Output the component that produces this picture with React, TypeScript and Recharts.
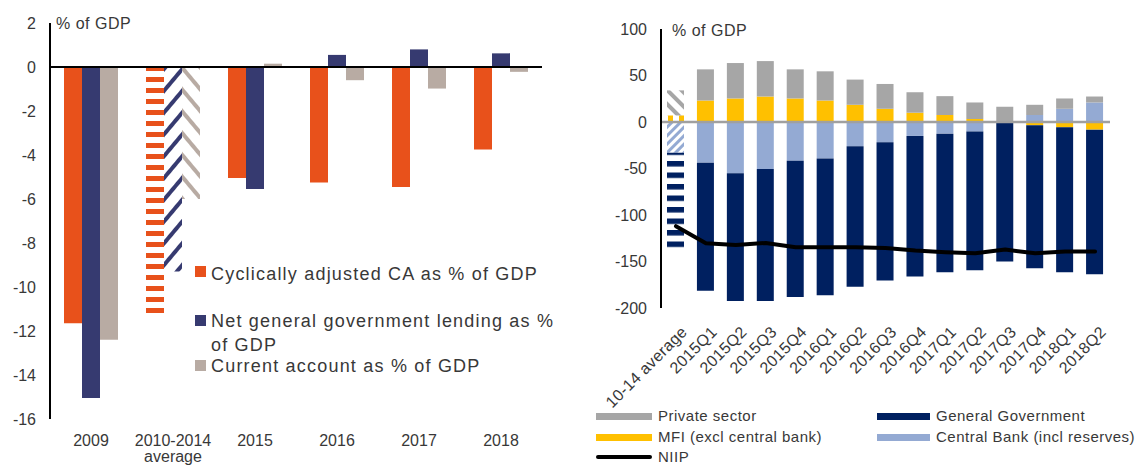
import React from 'react'
import {
  BarChart,
  ComposedChart,
  Bar,
  Line,
  XAxis,
  YAxis,
  ReferenceLine,
  Cell,
  Legend,
} from 'recharts'

// ---- left chart data (% of GDP) ----
const leftCategories = ['2009', '2010-2014 average', '2015', '2016', '2017', '2018']
const cyclicallyAdjustedCA = [-11.65, -11.35, -5.05, -5.25, -5.45, -3.75]
const netGovLending = [-15.05, -9.3, -5.55, 0.55, 0.8, 0.62]
const currentAccount = [-12.4, -6.0, 0.15, -0.6, -0.98, -0.22]
const leftTicks = [-16, -14, -12, -10, -8, -6, -4, -2, 0, 2]

// ---- right chart data (% of GDP) ----
const rightCategories = [
  '10-14 average', '2015Q1', '2015Q2', '2015Q3', '2015Q4', '2016Q1', '2016Q2', '2016Q3',
  '2016Q4', '2017Q1', '2017Q2', '2017Q3', '2017Q4', '2018Q1', '2018Q2',
]
const privateSector = [27, 33.5, 38.1, 38.1, 31.3, 31.4, 27.1, 26.7, 22, 20.3, 17.8, 16.4, 11, 11.1, 6.4]
const mfi = [7, 23.1, 25.3, 27.4, 25.3, 23.1, 18.5, 14.2, 10, 7.5, 3.2, 0, -3.5, -5.7, -8.2]
const centralBank = [-33, -43.8, -55.2, -50.6, -41.7, -39.2, -26, -21.7, -15, -12.5, -10.3, -1, 7.5, 14.2, 21]
const generalGov = [-105, -137.7, -137.4, -142, -146.6, -147, -151.2, -148.7, -151.1, -149, -149.1, -149, -153.7, -155.8, -155.5]
const niip = [-112, -130.4, -132.2, -130, -134.7, -134.7, -134.7, -135.4, -138.2, -140, -141.1, -137.2, -141.1, -139.3, -139.3]
const rightTicks = [-200, -150, -100, -50, 0, 50, 100]

const FONT = "'Liberation Sans', Arial, sans-serif"
const TXT = '#383838'

const ORANGE = '#e8511b'
const NAVY = '#363a70'
const TAUPE = '#b8aba3'

const GREY = '#a6a6a6'
const YELLOW = '#ffc000'
const DARKBLUE = '#002060'
const LIGHTBLUE = '#94aad3'

const leftData = leftCategories.map((c, i) => ({
  name: c,
  ca: cyclicallyAdjustedCA[i],
  gov: netGovLending[i],
  cur: currentAccount[i],
}))

const rightData = rightCategories.map((c, i) => ({
  name: c,
  mfi: mfi[i],
  cb: centralBank[i],
  priv: privateSector[i],
  gg: generalGov[i],
  niip: niip[i],
}))

function LeftTick({ x, y, payload }: any) {
  const lines = payload.value === '2010-2014 average' ? ['2010-2014', 'average'] : [payload.value]
  return (
    <text x={x} y={y} textAnchor="middle" fontSize={16} fill={TXT} fontFamily={FONT}>
      {lines.map((l: string, i: number) => (
        <tspan key={i} x={x} dy={i === 0 ? 27 : 16}>{l}</tspan>
      ))}
    </text>
  )
}

function RightTick({ x, y, payload }: any) {
  const tx = x + 12
  const ty = y + 25
  return (
    <text
      x={tx}
      y={ty}
      textAnchor="end"
      transform={`rotate(-45, ${tx}, ${ty})`}
      fontSize={16}
      letterSpacing={0.3}
      fill={TXT}
      fontFamily={FONT}
    >
      {payload.value}
    </text>
  )
}

function LeftLegend() {
  const sq = (top: number, color: string) => (
    <div style={{ position: 'absolute', left: 195, top, width: 11, height: 11, background: color }} />
  )
  const txt = (top: number, s: string) => (
    <div style={{ position: 'absolute', left: 211, top, whiteSpace: 'nowrap', fontSize: 18, lineHeight: '22px', letterSpacing: 1.2 }}>
      {s}
    </div>
  )
  return (
    <div style={{ position: 'relative', width: 560, height: 466, fontFamily: FONT, color: TXT, overflow: 'hidden' }}>
      {sq(266, ORANGE)}
      {txt(263, 'Cyclically adjusted CA as % of GDP')}
      {sq(315, NAVY)}
      <div style={{ position: 'absolute', left: 211, top: 309, whiteSpace: 'nowrap', fontSize: 18, lineHeight: '24px', letterSpacing: 1.2 }}>
        Net general government lending as %<br />of GDP
      </div>
      {sq(360, TAUPE)}
      {txt(355, 'Current account as % of GDP')}
    </div>
  )
}

function RightLegend() {
  const items = [
    { label: 'Private sector', color: GREY, left: 16, top: 416, w: 56, h: 7 },
    { label: 'General Government', color: DARKBLUE, left: 297, top: 416, w: 53, h: 7 },
    { label: 'MFI (excl central bank)', color: YELLOW, left: 16, top: 437, w: 56, h: 7 },
    { label: 'Central Bank (incl reserves)', color: LIGHTBLUE, left: 297, top: 437, w: 53, h: 7 },
    { label: 'NIIP', color: '#000', left: 16, top: 457, w: 56, h: 4 },
  ]
  return (
    <div style={{ position: 'relative', width: 562, height: 466, fontFamily: FONT, color: TXT }}>
      {items.map((it) => (
        <React.Fragment key={it.label}>
          <div
            style={{
              position: 'absolute',
              left: it.left,
              top: it.top - it.h / 2,
              width: it.w,
              height: it.h,
              background: it.color,
              borderRadius: it.label === 'NIIP' ? 2 : 0,
            }}
          />
          <div
            style={{
              position: 'absolute',
              left: it.left + it.w + 6,
              top: it.top - 10,
              fontSize: 15,
              lineHeight: '20px',
              letterSpacing: 0.5,
              whiteSpace: 'nowrap',
            }}
          >
            {it.label}
          </div>
        </React.Fragment>
      ))}
    </div>
  )
}

export default function App() {
  return (
    <div style={{ position: 'absolute', left: 0, top: 0, width: 1142, height: 466, background: '#fff', overflow: 'hidden' }}>
      <div style={{ position: 'absolute', left: 0, top: 0 }}>
        <BarChart
          width={560}
          height={466}
          data={leftData}
          margin={{ top: 23, right: 18, left: 0, bottom: 0 }}
          barGap={0}
          barSize={18}
        >
          <defs>
            <pattern id="lOrange" width="10" height="11" patternUnits="userSpaceOnUse">
              <rect x="0" y="0" width="10" height="5" fill={ORANGE} />
            </pattern>
            <pattern id="lNavy" width="14" height="14" patternUnits="userSpaceOnUse" patternTransform="rotate(-50)">
              <rect x="0" y="0" width="14" height="4" fill={NAVY} />
            </pattern>
            <pattern id="lTaupe" width="14" height="14" patternUnits="userSpaceOnUse" patternTransform="rotate(50)">
              <rect x="0" y="0" width="14" height="4" fill={TAUPE} />
            </pattern>
          </defs>
          <text x={56} y={29} fontSize={16} letterSpacing={0.5} fill={TXT} fontFamily={FONT}>% of GDP</text>
          <XAxis
            dataKey="name"
            axisLine={false}
            tickLine={false}
            tickSize={0}
            tickMargin={0}
            height={47}
            interval={0}
            tick={<LeftTick />}
          />
          <YAxis
            domain={[-16, 2]}
            ticks={leftTicks}
            width={50}
            tickLine={false}
            tickSize={0}
            tickMargin={14}
            axisLine={{ stroke: '#000', strokeWidth: 2 }}
            tick={{ fontSize: 16, fill: TXT, fontFamily: FONT }}
          />
          <Bar dataKey="ca" isAnimationActive={false}>
            {leftData.map((_, i) => (
              <Cell key={i} fill={i === 1 ? 'url(#lOrange)' : ORANGE} />
            ))}
          </Bar>
          <Bar dataKey="gov" isAnimationActive={false}>
            {leftData.map((_, i) => (
              <Cell key={i} fill={i === 1 ? 'url(#lNavy)' : NAVY} />
            ))}
          </Bar>
          <Bar dataKey="cur" isAnimationActive={false}>
            {leftData.map((_, i) => (
              <Cell key={i} fill={i === 1 ? 'url(#lTaupe)' : TAUPE} />
            ))}
          </Bar>
          <ReferenceLine y={0} stroke="#000" strokeWidth={2} />
          <Legend
            layout="horizontal"
            verticalAlign="middle"
            align="center"
            wrapperStyle={{ top: 0, left: 0, width: 560, height: 466, pointerEvents: 'none' }}
            content={() => <LeftLegend />}
          />
        </BarChart>
      </div>

      <div style={{ position: 'absolute', left: 580, top: 0 }}>
        <ComposedChart
          width={562}
          height={466}
          data={rightData}
          stackOffset="sign"
          margin={{ top: 29, right: 32, left: 0, bottom: 0 }}
          barSize={17}
        >
          <defs>
            <pattern id="rGrey" width="10" height="10" patternUnits="userSpaceOnUse" patternTransform="rotate(45)">
              <rect x="0" y="0" width="10" height="4" fill={GREY} />
            </pattern>
            <pattern id="rYellow" width="11" height="10" patternUnits="userSpaceOnUse">
              <rect x="0" y="0" width="5" height="10" fill={YELLOW} />
            </pattern>
            <pattern id="rBlue" width="6" height="6" patternUnits="userSpaceOnUse" patternTransform="rotate(-45)">
              <rect x="0" y="0" width="6" height="3" fill={LIGHTBLUE} />
            </pattern>
            <pattern id="rNavy" width="10" height="11.5" patternUnits="userSpaceOnUse">
              <rect x="0" y="0" width="10" height="5.5" fill={DARKBLUE} />
            </pattern>
          </defs>
          <text x={92} y={36} fontSize={16} letterSpacing={0.5} fill={TXT} fontFamily={FONT}>% of GDP</text>
          <XAxis
            dataKey="name"
            axisLine={false}
            tickLine={false}
            tickSize={0}
            tickMargin={0}
            height={158}
            interval={0}
            tick={<RightTick />}
          />
          <YAxis
            domain={[-200, 100]}
            ticks={rightTicks}
            width={81}
            tickLine={false}
            tickSize={0}
            tickMargin={14}
            axisLine={{ stroke: '#000', strokeWidth: 2 }}
            tick={{ fontSize: 16, fill: TXT, fontFamily: FONT }}
          />
          <Bar dataKey="mfi" stackId="s" isAnimationActive={false}>
            {rightData.map((_, i) => (
              <Cell key={i} fill={i === 0 ? 'url(#rYellow)' : YELLOW} />
            ))}
          </Bar>
          <Bar dataKey="cb" stackId="s" isAnimationActive={false}>
            {rightData.map((_, i) => (
              <Cell key={i} fill={i === 0 ? 'url(#rBlue)' : LIGHTBLUE} />
            ))}
          </Bar>
          <Bar dataKey="priv" stackId="s" isAnimationActive={false}>
            {rightData.map((_, i) => (
              <Cell key={i} fill={i === 0 ? 'url(#rGrey)' : GREY} />
            ))}
          </Bar>
          <Bar dataKey="gg" stackId="s" isAnimationActive={false}>
            {rightData.map((_, i) => (
              <Cell key={i} fill={i === 0 ? 'url(#rNavy)' : DARKBLUE} />
            ))}
          </Bar>
          <ReferenceLine y={0} stroke="#a0a0a0" strokeWidth={2.5} />
          <Line
            dataKey="niip"
            stroke="#000"
            strokeWidth={4}
            dot={false}
            strokeLinecap="round"
            strokeLinejoin="round"
            isAnimationActive={false}
          />
          <Legend
            layout="horizontal"
            verticalAlign="middle"
            align="center"
            wrapperStyle={{ top: 0, left: 0, width: 562, height: 466, pointerEvents: 'none' }}
            content={() => <RightLegend />}
          />
        </ComposedChart>
      </div>
    </div>
  )
}
